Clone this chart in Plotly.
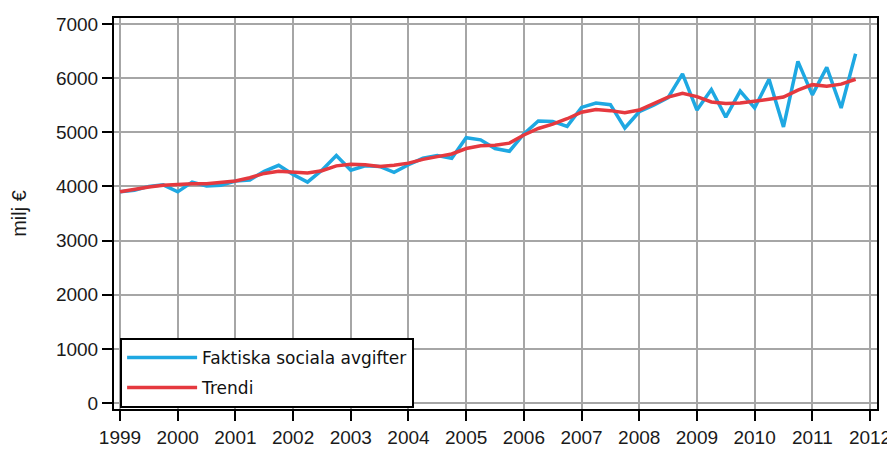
import plotly.graph_objects as go

start_year = 1999
quarters_per_year = 4

faktiska = [
    3900, 3930, 4000, 4030,
    3900, 4080, 4010, 4020,
    4100, 4120, 4280, 4390,
    4220, 4080, 4300, 4570,
    4300, 4380, 4370, 4260,
    4400, 4520, 4570, 4520,
    4900, 4860, 4700, 4650,
    4970, 5210, 5200, 5110,
    5460, 5540, 5510, 5080,
    5380, 5500, 5640, 6080,
    5410, 5790, 5280, 5760,
    5450, 5980, 5100, 6310,
    5690, 6200, 5450, 6450,
]

trendi = [
    3900, 3950, 3990, 4020,
    4040, 4050, 4050, 4070,
    4100, 4160, 4240, 4280,
    4260, 4250, 4290, 4380,
    4410, 4400, 4370, 4390,
    4430, 4500, 4550, 4600,
    4700, 4750, 4760, 4800,
    4950, 5070, 5150, 5250,
    5370, 5420, 5400, 5360,
    5410, 5530, 5650, 5720,
    5660, 5560, 5530, 5540,
    5570, 5610, 5650, 5780,
    5880, 5850, 5890, 5980,
]

x_vals = [start_year + i / quarters_per_year for i in range(len(faktiska))]

year_ticks = list(range(1999, 2013))
y_ticks = [0, 1000, 2000, 3000, 4000, 5000, 6000, 7000]

fig = go.Figure()
fig.add_trace(go.Scatter(
    x=x_vals, y=faktiska, mode="lines", name="Faktiska sociala avgifter",
    line=dict(color="#1EA8E2", width=3.5), legendgroup="a",
))
fig.add_trace(go.Scatter(
    x=x_vals, y=trendi, mode="lines", name="Trendi",
    line=dict(color="#E5393F", width=3.5), legendgroup="b",
))

tick_font = dict(family="Liberation Sans, Arial", size=19, color="#1a1a1a")

axis_common = dict(
    showline=True, linecolor="black", linewidth=2, mirror=True,
    showgrid=True, gridcolor="#A6A6A6", gridwidth=2,
    ticks="outside", ticklen=10, tickwidth=2, tickcolor="black",
    zeroline=False, automargin=False,
    tickfont=tick_font,
)

fig.update_xaxes(
    range=[1998.896, 2012.121],
    tickvals=year_ticks, ticktext=[str(y) for y in year_ticks],
    **axis_common,
)
fig.update_yaxes(
    range=[-111, 7111],
    tickvals=y_ticks, ticktext=[str(v) for v in y_ticks],
    title=dict(text="milj €", font=dict(family="Liberation Sans, Arial", size=20, color="#1a1a1a"), standoff=26),
    **axis_common,
)

fig.update_layout(
    width=887, height=442,
    margin=dict(l=106, r=18, t=10, b=41),
    paper_bgcolor="white", plot_bgcolor="white",
    showlegend=True,
    legend=dict(
        x=0.008, y=0.182, xanchor="left", yanchor="top",
        bgcolor="white", bordercolor="black", borderwidth=2,
        font=dict(family="DejaVu Sans", size=17, color="#111111"),
        tracegroupgap=5,
        itemwidth=70,
    ),
)

fig.write_html("out.html", config={"displayModeBar": False})
